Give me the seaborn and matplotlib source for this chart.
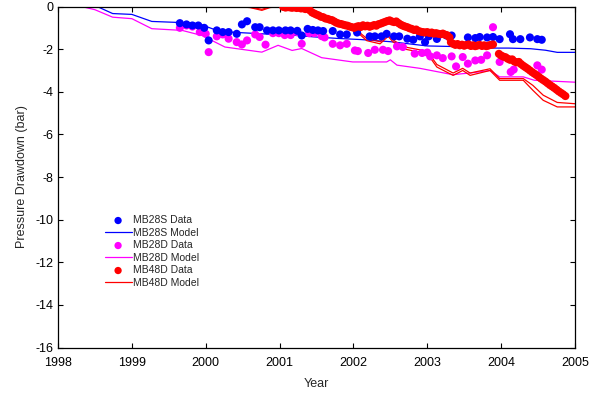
import matplotlib
matplotlib.use("Agg")
import matplotlib.pyplot as plt
import seaborn as sns

# ---- MB28S (shallow) observed drawdown and model ----
mb28s_years = [1999.65, 1999.74, 1999.82, 1999.90, 1999.98, 2000.04, 2000.15, 2000.23, 2000.31, 2000.42,
               2000.49, 2000.56, 2000.67, 2000.73, 2000.83, 2000.91, 2000.99, 2001.08, 2001.15, 2001.24,
               2001.30, 2001.38, 2001.45, 2001.52, 2001.59, 2001.72, 2001.82, 2001.91, 2002.05, 2002.22,
               2002.29, 2002.38, 2002.45, 2002.55, 2002.62, 2002.73, 2002.81, 2002.90, 2002.97, 2003.02,
               2003.13, 2003.26, 2003.33, 2003.55, 2003.65, 2003.71, 2003.81, 2003.89, 2003.98, 2004.12,
               2004.16, 2004.26, 2004.39, 2004.49, 2004.55]
mb28s_vals = [-0.78, -0.84, -0.89, -0.89, -1.00, -1.59, -1.12, -1.20, -1.20, -1.28,
              -0.84, -0.69, -0.97, -0.97, -1.12, -1.12, -1.12, -1.12, -1.12, -1.14,
              -1.36, -1.05, -1.10, -1.12, -1.15, -1.15, -1.31, -1.31, -1.22, -1.40,
              -1.40, -1.40, -1.28, -1.40, -1.40, -1.51, -1.56, -1.40, -1.67, -1.40,
              -1.52, -1.36, -1.36, -1.45, -1.48, -1.43, -1.45, -1.43, -1.53, -1.30,
              -1.53, -1.53, -1.45, -1.53, -1.56]
mb28s_model_years = [1998.0, 1998.53, 1998.74, 1999.0, 1999.27, 1999.65, 1999.90, 2000.15, 2000.33,
                     2000.87, 2001.20, 2001.45, 2001.80, 2002.10, 2002.50, 2003.00, 2003.40, 2003.80,
                     2004.10, 2004.40, 2004.60, 2004.76, 2005.0]
mb28s_model = [0.0, 0.0, -0.33, -0.37, -0.70, -0.75, -0.80, -1.12, -1.20,
               -1.30, -1.35, -1.42, -1.50, -1.55, -1.65, -1.85, -1.88, -1.95,
               -1.95, -1.98, -2.05, -2.15, -2.15]

# ---- MB28D (deep) observed drawdown and model ----
mb28d_years = [1999.65, 1999.74, 1999.82, 1999.92, 2000.00, 2000.04, 2000.15, 2000.23, 2000.31, 2000.42,
               2000.49, 2000.56, 2000.67, 2000.73, 2000.81, 2000.91, 2000.99, 2001.07, 2001.15, 2001.24,
               2001.30, 2001.40, 2001.47, 2001.57, 2001.61, 2001.72, 2001.82, 2001.91, 2002.02, 2002.06,
               2002.20, 2002.29, 2002.40, 2002.47, 2002.59, 2002.67, 2002.83, 2002.93, 2003.00, 2003.04,
               2003.13, 2003.21, 2003.33, 2003.39, 2003.48, 2003.55, 2003.65, 2003.73, 2003.81, 2003.89,
               2003.98, 2004.13, 2004.17, 2004.49, 2004.55]
mb28d_vals = [-1.00, -0.89, -0.94, -1.20, -1.28, -2.14, -1.40, -1.31, -1.51, -1.67,
              -1.78, -1.59, -1.31, -1.43, -1.79, -1.25, -1.25, -1.34, -1.34, -1.20,
              -1.75, -1.25, -1.25, -1.39, -1.45, -1.75, -1.82, -1.75, -2.06, -2.09,
              -2.18, -2.03, -2.03, -2.09, -1.87, -1.90, -2.21, -2.18, -2.16, -2.34,
              -2.29, -2.42, -2.34, -2.81, -2.37, -2.68, -2.53, -2.50, -2.29, -0.97,
              -2.60, -3.07, -2.96, -2.76, -2.96]
mb28d_model_years = [1998.0, 1998.32, 1998.50, 1998.74, 1999.0, 1999.27, 1999.68, 1999.95, 2000.26,
                     2000.76, 2000.98, 2001.17, 2001.30, 2001.57, 2001.99, 2002.45, 2002.50, 2002.59,
                     2002.90, 2003.35, 2003.48, 2003.58, 2003.85, 2003.98, 2004.30, 2004.45, 2005.0]
mb28d_model = [0.0, 0.0, -0.15, -0.50, -0.57, -1.04, -1.12, -1.36, -1.90,
               -2.14, -1.82, -2.06, -1.97, -2.40, -2.60, -2.60, -2.50, -2.75,
               -2.90, -3.20, -3.15, -3.12, -3.00, -3.30, -3.30, -3.46, -3.55]

# ---- MB48D observed drawdown and model runs ----
mb48d_years = [2001.05, 2001.08, 2001.11, 2001.14, 2001.17, 2001.20, 2001.23, 2001.26, 2001.29, 2001.32,
               2001.35, 2001.38, 2001.41, 2001.44, 2001.47, 2001.50, 2001.53, 2001.56, 2001.59, 2001.62,
               2001.65, 2001.68, 2001.71, 2001.74, 2001.77, 2001.80, 2001.83, 2001.86, 2001.89, 2001.92,
               2001.95, 2001.98, 2002.01, 2002.04, 2002.07, 2002.10, 2002.13, 2002.16, 2002.19, 2002.22,
               2002.25, 2002.28, 2002.31, 2002.34, 2002.37, 2002.40, 2002.43, 2002.46, 2002.49, 2002.52,
               2002.55, 2002.58, 2002.61, 2002.64, 2002.67, 2002.70, 2002.73, 2002.76, 2002.79, 2002.82,
               2002.85, 2002.88, 2002.91, 2002.94, 2002.97, 2003.00, 2003.03, 2003.06, 2003.09, 2003.12,
               2003.15, 2003.18, 2003.21, 2003.24, 2003.27, 2003.30, 2003.32, 2003.35, 2003.38, 2003.41,
               2003.44, 2003.47, 2003.50, 2003.53, 2003.56, 2003.59, 2003.62, 2003.65, 2003.68, 2003.71,
               2003.74, 2003.77, 2003.80, 2003.83, 2003.86, 2003.89, 2003.97, 2004.00, 2004.03, 2004.06,
               2004.09, 2004.12, 2004.15, 2004.18, 2004.21, 2004.24, 2004.27, 2004.30, 2004.33, 2004.36,
               2004.39, 2004.42, 2004.45, 2004.48, 2004.51, 2004.54, 2004.57, 2004.60, 2004.63, 2004.66,
               2004.69, 2004.72, 2004.75, 2004.78, 2004.81, 2004.84, 2004.87]
mb48d_vals = [-0.02, -0.05, -0.03, -0.04, -0.06, -0.03, -0.07, -0.05, -0.09, -0.08,
              -0.12, -0.10, -0.18, -0.28, -0.33, -0.38, -0.42, -0.48, -0.50, -0.56,
              -0.58, -0.62, -0.64, -0.70, -0.76, -0.80, -0.82, -0.85, -0.88, -0.90,
              -0.94, -0.97, -1.00, -0.95, -0.92, -0.96, -0.88, -0.93, -0.90, -0.95,
              -0.91, -0.87, -0.90, -0.83, -0.80, -0.76, -0.72, -0.68, -0.65, -0.70,
              -0.73, -0.70, -0.78, -0.85, -0.90, -0.94, -0.97, -1.02, -1.05, -1.10,
              -1.08, -1.15, -1.18, -1.20, -1.22, -1.20, -1.24, -1.22, -1.27, -1.25,
              -1.28, -1.30, -1.27, -1.32, -1.35, -1.45, -1.68, -1.75, -1.80, -1.76,
              -1.82, -1.79, -1.84, -1.80, -1.78, -1.85, -1.82, -1.86, -1.83, -1.80,
              -1.85, -1.82, -1.86, -1.83, -1.80, -1.78, -2.22, -2.30, -2.35, -2.38,
              -2.45, -2.50, -2.48, -2.58, -2.62, -2.60, -2.70, -2.78, -2.85, -2.92,
              -3.00, -3.08, -3.15, -3.22, -3.30, -3.38, -3.45, -3.52, -3.60, -3.68,
              -3.75, -3.82, -3.90, -3.98, -4.05, -4.12, -4.20]
mb48d_model_years = [2000.44, 2000.60, 2000.76, 2000.87, 2001.00, 2001.25, 2001.45, 2001.60, 2001.80,
                     2002.05, 2002.18, 2002.36, 2002.47, 2002.54, 2002.67, 2003.00, 2003.13, 2003.35,
                     2003.48, 2003.58, 2003.85, 2003.98, 2004.30, 2004.43, 2004.57, 2004.76, 2005.0]
mb48d_model = [0.0, -0.05, -0.18, -0.05, 0.0, -0.10, -0.35, -0.55, -0.85,
               -1.20, -1.60, -1.75, -1.40, -1.67, -1.98, -2.21, -2.84, -3.23,
               -3.00, -3.23, -3.00, -3.46, -3.46, -3.93, -4.40, -4.71, -4.71]
mb48d_model_b = [0.0, -0.03, -0.13, -0.02, 0.0, -0.08, -0.30, -0.50, -0.78,
                 -1.12, -1.50, -1.65, -1.30, -1.57, -1.88, -2.10, -2.72, -3.12,
                 -2.90, -3.12, -2.92, -3.38, -3.38, -3.70, -4.16, -4.50, -4.56]

BLUE, MAGENTA, RED = "#0000ff", "#ff00ff", "#ff0000"

sns.set_style("ticks")
plt.rcParams["font.family"] = ["Liberation Sans", "DejaVu Sans"]
plt.rcParams["axes.unicode_minus"] = False
plt.rcParams["xtick.direction"] = "in"
plt.rcParams["ytick.direction"] = "in"
plt.rcParams["xtick.top"] = True
plt.rcParams["ytick.right"] = True

fig = plt.figure(figsize=(5.98, 3.95), dpi=100)
ax = fig.add_axes([0.097, 0.12, 0.8645, 0.8635])

line_kw = dict(ax=ax, linewidth=0.9, sort=False, estimator=None, zorder=2)
sns.lineplot(x=mb28d_model_years, y=mb28d_model, color=MAGENTA, label="MB28D Model", **line_kw)
sns.lineplot(x=mb28s_model_years, y=mb28s_model, color=BLUE, label="MB28S Model", **line_kw)
sns.lineplot(x=mb48d_model_years, y=mb48d_model, color=RED, label="MB48D Model", **line_kw)
sns.lineplot(x=mb48d_model_years, y=mb48d_model_b, color=RED, label="_nolegend_", **line_kw)

dot_kw = dict(ax=ax, s=34, edgecolor="none", linewidth=0, zorder=3)
sns.scatterplot(x=mb28d_years, y=mb28d_vals, color=MAGENTA, label="MB28D Data", **dot_kw)
sns.scatterplot(x=mb28s_years, y=mb28s_vals, color=BLUE, label="MB28S Data", **dot_kw)
sns.scatterplot(x=mb48d_years, y=mb48d_vals, color=RED, label="MB48D Data", **dot_kw)

ax.set_xlim(1998, 2005)
ax.set_ylim(-16, 0)
ax.set_xticks(range(1998, 2006))
ax.set_yticks(range(-16, 1, 2))
ax.tick_params(axis="both", which="both", length=3.5, width=0.8, labelsize=9,
               colors="black")
ax.tick_params(axis="x", pad=7)
ax.tick_params(axis="y", pad=3)
for sp in ax.spines.values():
    sp.set_visible(True)
    sp.set_color("black")
    sp.set_linewidth(0.9)

ax.set_xlabel("Year", fontsize=9, labelpad=6)
ax.set_ylabel("Pressure Drawdown (bar)", fontsize=9, labelpad=6)

order = ["MB28S Data", "MB28S Model", "MB28D Data", "MB28D Model", "MB48D Data", "MB48D Model"]
handles, labels = ax.get_legend_handles_labels()
lookup = dict(zip(labels, handles))
ax.legend([lookup[k] for k in order], order, loc="upper left",
          bbox_to_anchor=(0.090, 0.388), frameon=False, fontsize=7.5,
          handlelength=2.6, handletextpad=0.15, labelspacing=0.24,
          borderpad=0, borderaxespad=0, markerscale=0.9)

fig.savefig("out.png", dpi=100)
